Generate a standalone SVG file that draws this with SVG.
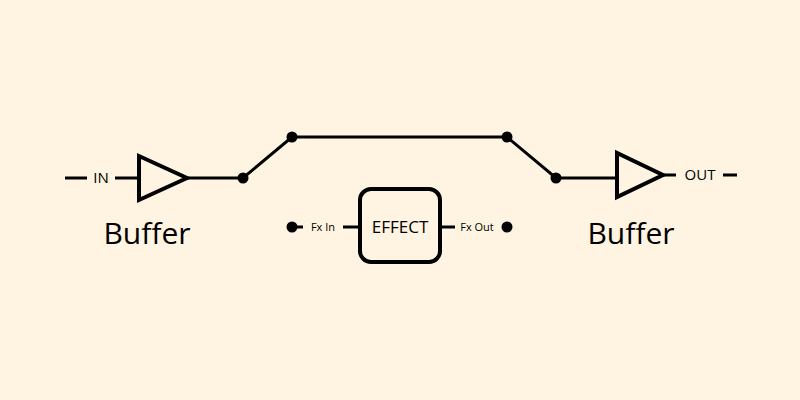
<svg xmlns="http://www.w3.org/2000/svg" width="800" height="400" viewBox="0 0 800 400">
<style>
.w{stroke:#000;stroke-width:3;fill:none}
.t{stroke:#000;stroke-width:4;fill:none;stroke-linejoin:miter}
text{font-family:"Open Sans","Noto Sans",sans-serif;fill:#000}
.s{font-size:15px}.e{font-size:17px}.xs{font-size:11px}.l{font-size:30px}
</style>
<rect width="800" height="400" fill="#fff4e1"/>
<g id="connectors">
<path class="w" d="M65 178H87M115 178H139M187 178H243L292 137H507L556 178H617M663 175H676M723 175H737"/>
<path class="w" d="M292 227H303M343 227H360M440 227H455"/>
</g>
<g id="buffer-in"><path class="t" d="M139 156V200L187 178Z"/><text x="101" y="183" class="s" text-anchor="middle">IN</text><text x="147" y="244" class="l" text-anchor="middle">Buffer</text></g>
<g id="buffer-out"><path class="t" d="M617 153V197L663 175Z"/><text x="700" y="180" class="s" text-anchor="middle">OUT</text><text x="631" y="244" class="l" text-anchor="middle">Buffer</text></g>
<g id="switch"><circle cx="243" cy="178" r="5.5"/><circle cx="292" cy="137" r="5.5"/><circle cx="507" cy="137" r="5.5"/><circle cx="556" cy="178" r="5.5"/></g>
<g id="effect"><rect x="360" y="189" width="80" height="73" rx="11" class="t"/><text x="400" y="233" class="e" text-anchor="middle">EFFECT</text></g>
<g id="fx-in"><circle cx="292" cy="227" r="5.5"/><text x="323" y="231" class="xs" text-anchor="middle">Fx In</text></g>
<g id="fx-out"><circle cx="507" cy="227" r="5.5"/><text x="477" y="231" class="xs" text-anchor="middle">Fx Out</text></g>
</svg>
